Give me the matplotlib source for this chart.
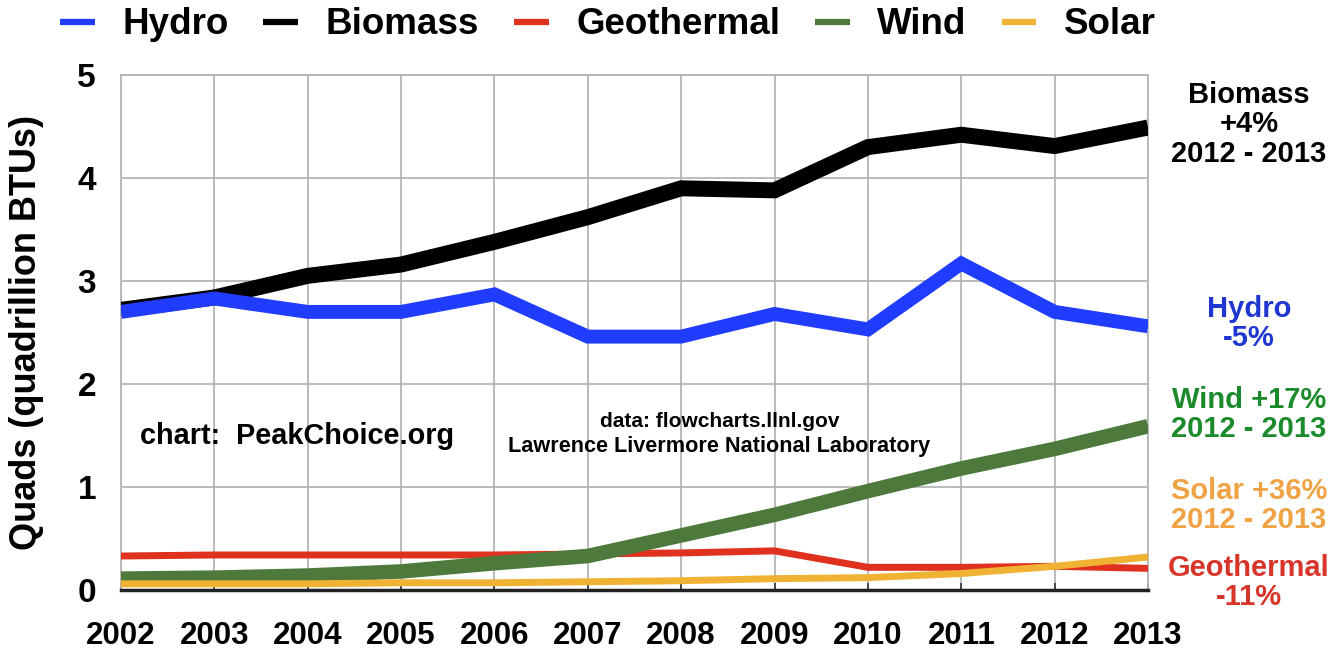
import matplotlib
matplotlib.use("Agg")
import matplotlib.pyplot as plt

# Renewable energy use in the US, quads
years = [2002, 2003, 2004, 2005, 2006, 2007, 2008, 2009, 2010, 2011, 2012, 2013]
hydro = [2.70, 2.83, 2.70, 2.70, 2.87, 2.46, 2.46, 2.68, 2.53, 3.17, 2.70, 2.56]
biomass = [2.72, 2.84, 3.05, 3.16, 3.38, 3.62, 3.90, 3.88, 4.30, 4.42, 4.31, 4.49]
geothermal = [0.33, 0.34, 0.34, 0.34, 0.34, 0.35, 0.36, 0.38, 0.22, 0.22, 0.23, 0.21]
wind = [0.11, 0.12, 0.14, 0.18, 0.26, 0.33, 0.53, 0.73, 0.96, 1.18, 1.37, 1.59]
solar = [0.06, 0.06, 0.06, 0.07, 0.07, 0.08, 0.09, 0.11, 0.12, 0.16, 0.23, 0.32]
yticks = [0, 1, 2, 3, 4, 5]

sans = ["Liberation Sans", "DejaVu Sans"]

c_hydro = "#1f3cff"
c_bio = "#000000"
c_geo = "#e0301e"
c_wind = "#4d7a3c"
c_solar = "#f0b232"

fig = plt.figure(figsize=(13.38, 6.52), dpi=100)
ax = fig.add_axes([121/1338, 62/652, (1148-121)/1338, (590-75)/652])

l_geo, = ax.plot(years, geothermal, color=c_geo, lw=5, label="Geothermal", zorder=3)
l_wind, = ax.plot(years, wind, color=c_wind, lw=10.5, label="Wind", zorder=4)
l_solar, = ax.plot(years, solar, color=c_solar, lw=5, label="Solar", zorder=5)
l_bio, = ax.plot(years, biomass, color=c_bio, lw=11.5, label="Biomass", zorder=6)
l_hydro, = ax.plot(years, hydro, color=c_hydro, lw=10, label="Hydro", zorder=7)
for l in (l_geo, l_wind, l_solar, l_bio, l_hydro):
    l.set_solid_joinstyle("miter")
    l.set_solid_capstyle("butt")

ax.set_xlim(2002, 2013)
ax.set_ylim(0, 5)
ax.set_xticks(years)
ax.set_xticklabels([str(y) for y in years], family=sans, fontweight="bold", fontsize=22.5)
ax.set_yticks(yticks)
ax.set_yticklabels([str(v) for v in yticks], family=sans, fontweight="bold", fontsize=24)
ax.tick_params(axis="y", length=0, pad=18)
ax.tick_params(axis="x", direction="in", length=5, width=1.2, color="#333333", pad=22)
ax.grid(True, color="#b5b5b5", lw=1.3)
ax.set_axisbelow(True)
for s in ("top", "right", "left"):
    ax.spines[s].set_color("#b5b5b5")
    ax.spines[s].set_linewidth(1.3)
ax.spines["bottom"].set_color("#222222")
ax.spines["bottom"].set_linewidth(2.5)

ax.set_ylabel("Quads (quadrillion BTUs)", family=sans, fontweight="bold", fontsize=26, labelpad=24)

# notes inside the plot
ax.text(2002.2, 1.50, "chart:  PeakChoice.org", family=sans, fontweight="bold",
        fontsize=20.8, ha="left", va="center")
ax.text(2008.41, 1.64, "data: flowcharts.llnl.gov", family=sans, fontweight="bold",
        fontsize=15, ha="center", va="center")
ax.text(2008.41, 1.39, "Lawrence Livermore National Laboratory", family=sans, fontweight="bold",
        fontsize=15.6, ha="center", va="center")

# right-hand change labels
xr = 2014.08
right_labels = [
    ("Biomass\n+4%\n2012 - 2013", 4.52, "#000000"),
    ("Hydro\n-5%", 2.59, "#2036d0"),
    ("Wind +17%\n2012 - 2013", 1.70, "#1a8a2a"),
    ("Solar +36%\n2012 - 2013", 0.82, "#f0a345"),
    ("Geothermal\n-11%", 0.07, "#d8352a"),
]
for txt, yy, col in right_labels:
    ax.text(xr, yy, txt, family=sans, fontweight="bold", fontsize=21, color=col,
            ha="center", va="center", linespacing=1.05, clip_on=False)

leg = fig.legend(handles=[l_hydro, l_bio, l_geo, l_wind, l_solar], ncol=5,
                 loc="center left", bbox_to_anchor=(60/1338, 1 - 25/652),
                 frameon=False, borderpad=0, borderaxespad=0,
                 handlelength=0.94, handletextpad=0.75, columnspacing=0.95,
                 prop={"family": sans, "weight": "bold", "size": 26.5})
for h in leg.get_lines():
    h.set_linewidth(4.5)

fig.savefig("out.png", dpi=100)
